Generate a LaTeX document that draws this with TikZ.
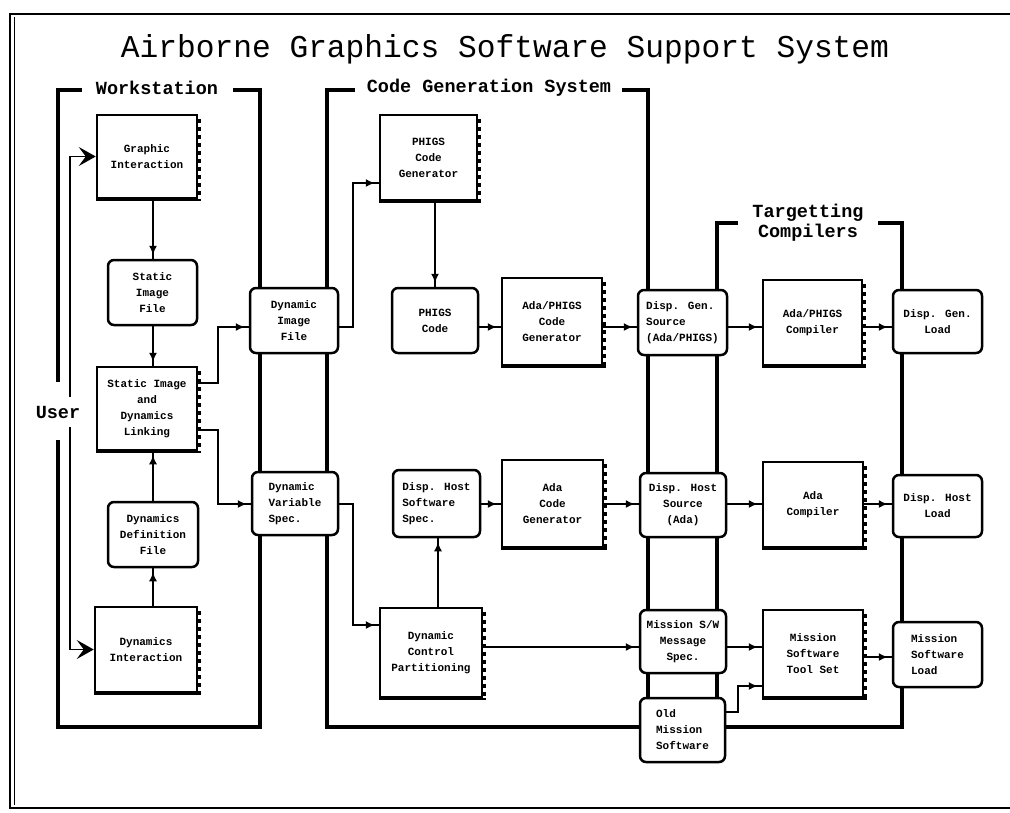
\documentclass[tikz,border=0pt]{standalone}
\usepackage{fontspec}
\usepackage{graphicx}
\setmainfont{Liberation Sans}
\setmonofont{Liberation Mono}
\newfontfamily\titlefont{Liberation Mono}
\usetikzlibrary{arrows.meta,decorations.markings}
\newcommand\boxfont{\fontsize{11}{16}\selectfont\ttfamily\bfseries}
\newcommand\lblfont{\fontsize{18.5}{20}\selectfont\ttfamily\bfseries}
\tikzset{
 bracket/.style={line width=4.5pt, line join=miter},
 proc/.style={draw, line width=2.5pt, fill=white, rectangle, align=center, font=\boxfont, inner sep=2pt},
 filebox/.style={draw, line width=2.5pt, fill=white, rounded corners=6pt, align=center, font=\boxfont, inner sep=2pt},
 conn/.style={line width=1.6pt, postaction={decorate}, decoration={markings, mark=at position -4pt with {\arrow{Latex[length=9pt,width=8pt]}}}},
 userarr/.style={line width=1.8pt, -{Stealth[length=17pt,width=19pt,inset=7pt]}},
 lbl/.style={font=\lblfont, inner sep=0pt, align=center},
 frame/.style={line width=2.5pt}
}
\begin{document}
\begin{tikzpicture}[x=1pt,y=-1pt]
\useasboundingbox (0,0) rectangle (1010,812);
% outer frame
\draw[frame] (1010,14) -- (10,14) -- (10,808) -- (1010,808);
\draw[line width=1pt] (14,17) -- (14,805);
% title
\node[anchor=base, inner sep=0pt] (title) at (505,57) {\resizebox{768pt}{23pt}{\titlefont Airborne Graphics Software Support System}};
% helper coordinates
\coordinate (r1) at (0,327);
\coordinate (r2) at (0,504);
\coordinate (r3) at (0,647);
\coordinate (r4) at (0,657);
\coordinate (c1) at (153,0);
\coordinate (c3) at (435,0);
\coordinate (c4) at (438,0);
\coordinate (j1) at (218,383);
\coordinate (j2) at (218,430);
\coordinate (j3) at (353,183);
\coordinate (j4) at (353,625);
\coordinate (j5) at (738,712);
\coordinate (j6) at (738,686);
\coordinate (u1) at (70,397);
\coordinate (u2) at (70,427);
% brackets
\draw[bracket] (82,90) -- (58,90) -- (58,382);
\draw[bracket] (58,440) -- (58,727) -- (260,727) -- (260,90) -- (233,90);
\draw[bracket] (355,90) -- (327,90) -- (327,727) -- (902,727) -- (902,223) -- (878,223);
\draw[bracket] (622,90) -- (648,90) -- (648,727);
\draw[bracket] (738,223) -- (717,223) -- (717,727);
% labels
\node[lbl] (ws) at (157,88) {Workstation};
\node[lbl] (cgs) at (489,88) {Code Generation System};
\node[lbl] (tc) at (808,223) {Targetting\\Compilers};
\node[lbl] (user) at (58,412) {User};
% process boxes
\node[proc, minimum width=100pt, minimum height=83pt] (gi) at (147,156.5) {Graphic\\Interaction};
\node[proc, minimum width=100pt, minimum height=83pt] (sidl) at (147,408.5) {Static Image\\and\\Dynamics\\Linking};
\node[proc, minimum width=102pt, minimum height=85pt] (di) at (146,649.5) {Dynamics\\Interaction};
\node[proc, minimum width=97pt, minimum height=85pt] (pcg) at (428.5,157.5) {PHIGS\\Code\\Generator};
\node[proc, minimum width=100pt, minimum height=87pt] (apcg) at (552,321.5) {Ada/PHIGS\\Code\\Generator};
\node[proc, minimum width=101pt, minimum height=87pt] (acg) at (552.5,503.5) {Ada\\Code\\Generator};
\node[proc, minimum width=102pt, minimum height=89pt] (dcp) at (431,652.5) {Dynamic\\Control\\Partitioning};
\node[proc, minimum width=99pt, minimum height=85pt] (apc) at (812.5,322.5) {Ada/PHIGS\\Compiler};
\node[proc, minimum width=100pt, minimum height=85pt] (ac) at (813,504.5) {Ada\\Compiler};
\node[proc, minimum width=100pt, minimum height=87pt] (msts) at (813,653.5) {Mission\\Software\\Tool Set};
% ragged right edges and heavy bottoms of process boxes
\foreach \n in {gi,sidl,di,pcg,apcg,acg,dcp,apc,ac,msts} {
  \draw[line width=3pt, dash pattern=on 4pt off 4pt] ([xshift=1.5pt,yshift=-5pt]\n.north east) -- ([xshift=1.5pt]\n.south east);
  \draw[line width=2.5pt] ([yshift=-0.8pt]\n.south west) -- ([xshift=3pt,yshift=-0.8pt]\n.south east);
}
% file boxes
\node[filebox, minimum width=89pt, minimum height=65pt] (sif) at (152.5,292.5) {Static\\Image\\File};
\node[filebox, minimum width=90pt, minimum height=65pt] (ddf) at (153,534.5) {Dynamics\\Definition\\File};
\node[filebox, minimum width=88pt, minimum height=65pt] (dif) at (294,320.5) {Dynamic\\Image\\File};
\node[filebox, minimum width=86pt, minimum height=63pt, align=left] (dvs) at (295,503.5) {Dynamic\\Variable\\Spec.};
\node[filebox, minimum width=86pt, minimum height=65pt] (pc) at (435,320.5) {PHIGS\\Code};
\node[filebox, minimum width=87pt, minimum height=67pt, align=left] (dhss) at (436.5,503.5) {Disp. Host\\Software\\Spec.};
\node[filebox, minimum width=89pt, minimum height=65pt, align=left] (dgs) at (682.5,322.5) {Disp. Gen.\\Source\\(Ada/PHIGS)};
\node[filebox, minimum width=86pt, minimum height=64pt] (dhs) at (683,505) {Disp. Host\\Source\\(Ada)};
\node[filebox, minimum width=86pt, minimum height=63pt] (mswms) at (683,641.5) {Mission S/W\\Message\\Spec.};
\node[filebox, minimum width=85pt, minimum height=64pt, align=left] (oms) at (682.5,730) {Old\\Mission\\Software};
\node[filebox, minimum width=89pt, minimum height=63pt] (dgl) at (937.5,321.5) {Disp. Gen.\\Load};
\node[filebox, minimum width=89pt, minimum height=62pt] (dhl) at (937.5,506) {Disp. Host\\Load};
\node[filebox, minimum width=89pt, minimum height=65pt, align=left] (msl) at (937.5,654.5) {Mission\\Software\\Load};
% connectors
\draw[userarr] (u1) |- (gi.west);
\draw[userarr] (u2) |- (di.west);
\draw[conn] (gi.south -| c1) -- (sif.north -| c1);
\draw[conn] (sif.south -| c1) -- (sidl.north -| c1);
\draw[conn] (ddf.north -| c1) -- (sidl.south -| c1);
\draw[conn] (di.north -| c1) -- (ddf.south -| c1);
\draw[conn] (sidl.east |- j1) -- (j1) |- (dif.west |- r1);
\draw[conn] (sidl.east |- j2) -- (j2) |- (dvs.west |- r2);
\draw[conn] (dif.east |- r1) -| (j3) -- (pcg.west |- j3);
\draw[conn] (dvs.east |- r2) -| (j4) -- (dcp.west |- j4);
\draw[conn] (pcg.south -| c3) -- (pc.north -| c3);
\draw[conn] (pc.east |- r1) -- (apcg.west |- r1);
\draw[conn] (apcg.east |- r1) -- (dgs.west |- r1);
\draw[conn] (dgs.east |- r1) -- (apc.west |- r1);
\draw[conn] (apc.east |- r1) -- (dgl.west |- r1);
\draw[conn] (dcp.north -| c4) -- (dhss.south -| c4);
\draw[conn] (dhss.east |- r2) -- (acg.west |- r2);
\draw[conn] (acg.east |- r2) -- (dhs.west |- r2);
\draw[conn] (dhs.east |- r2) -- (ac.west |- r2);
\draw[conn] (ac.east |- r2) -- (dhl.west |- r2);
\draw[conn] (dcp.east |- r3) -- (mswms.west |- r3);
\draw[conn] (mswms.east |- r3) -- (msts.west |- r3);
\draw[conn] (msts.east |- r4) -- (msl.west |- r4);
\draw[conn] (oms.east |- j5) -- (j5) -- (j6) -- (msts.west |- j6);
\end{tikzpicture}
\end{document}
